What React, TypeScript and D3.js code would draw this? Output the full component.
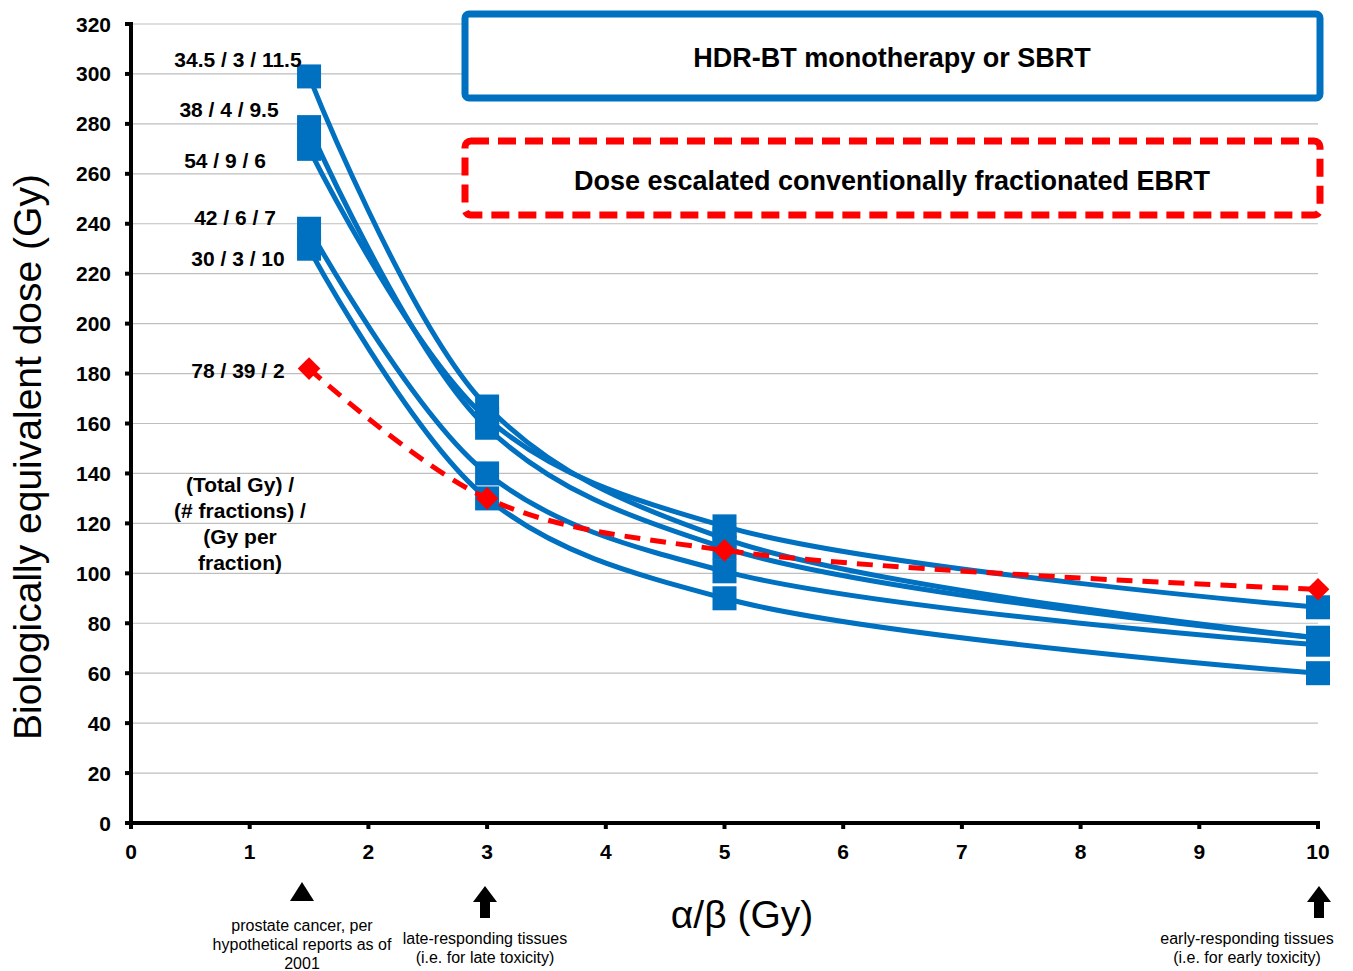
import React from "react";
import * as d3 from "d3";

const alphaBeta = [1.5, 3, 5, 10];
const hdrSeries = [
  { label: "34.5 / 3 / 11.5", values: [299, 166.8, 113.9, 74.2] },
  { label: "38 / 4 / 9.5", values: [278.7, 158.3, 110.2, 74.1] },
  { label: "54 / 9 / 6", values: [270, 162, 118.8, 86.4] },
  { label: "42 / 6 / 7", values: [238, 140, 100.8, 71.4] },
  { label: "30 / 3 / 10", values: [230, 130, 90, 60] },
];
const ebrtSeries = { label: "78 / 39 / 2", values: [182, 130, 109.2, 93.6] };
const xTicks = [0, 1, 2, 3, 4, 5, 6, 7, 8, 9, 10];
const yTicks = [0, 20, 40, 60, 80, 100, 120, 140, 160, 180, 200, 220, 240, 260, 280, 300, 320];

const W = 1353, H = 971;
const BLUE = "#0070C0";
const RED = "#FF0000";

export default function App() {
  const x = d3.scaleLinear().domain([0, 10]).range([131, 1318]);
  const y = d3.scaleLinear().domain([0, 320]).range([823, 24]);
  const line = d3
    .line<number>()
    .x((_, i) => x(alphaBeta[i]))
    .y((v) => y(v))
    .curve(d3.curveCatmullRom.alpha(0.5));
  const font = "Arial, 'Liberation Sans', sans-serif";
  const allLabels = [...hdrSeries.map((s) => s.label), ebrtSeries.label];
  const labelPos = [
    [238, 59], [229, 109], [225, 160], [235, 217], [238, 258], [238, 370],
  ];
  const arrowXs = [485, 1319];

  return (
    <svg width={W} height={H} style={{ position: "absolute", left: 0, top: 0, background: "#fff" }} fontFamily={font}>
      {/* gridlines */}
      {yTicks.slice(1).map((t) => (
        <line key={t} x1={x(0)} x2={x(10)} y1={y(t)} y2={y(t)} stroke="#BEBEBE" strokeWidth={1.2} />
      ))}
      {/* axes */}
      <line x1={x(0)} x2={x(0)} y1={y(320) - 2} y2={y(0) + 2} stroke="#000" strokeWidth={4} />
      <line x1={x(0) - 2} x2={x(10) + 2} y1={y(0)} y2={y(0)} stroke="#000" strokeWidth={4} />
      {yTicks.map((t) => (
        <g key={t}>
          <line x1={x(0) - 6} x2={x(0)} y1={y(t)} y2={y(t)} stroke="#000" strokeWidth={4} />
          <text x={111} y={y(t)} dy="0.36em" textAnchor="end" fontSize={21} fontWeight="bold">{t}</text>
        </g>
      ))}
      {xTicks.map((t) => (
        <g key={t}>
          <line x1={x(t)} x2={x(t)} y1={y(0)} y2={y(0) + 6} stroke="#000" strokeWidth={4} />
          <text x={x(t)} y={859} textAnchor="middle" fontSize={21} fontWeight="bold">{t}</text>
        </g>
      ))}
      {/* boxes */}
      <rect x={465} y={14} width={855} height={84} rx={4} fill="#fff" stroke={BLUE} strokeWidth={7} />
      <text x={892} y={57} dy="0.36em" textAnchor="middle" fontSize={27} fontWeight="bold">HDR-BT monotherapy or SBRT</text>
      <rect x={465} y={141} width={855} height={74} rx={6} fill="#fff" stroke={RED} strokeWidth={7} strokeDasharray="18 9" />
      <text x={892} y={180} dy="0.36em" textAnchor="middle" fontSize={27} fontWeight="bold">Dose escalated conventionally fractionated EBRT</text>
      {/* HDR lines */}
      {hdrSeries.map((s) => (
        <path key={s.label} d={line(s.values) || ""} fill="none" stroke={BLUE} strokeWidth={5} />
      ))}
      {hdrSeries.map((s) =>
        s.values.map((v, i) => (
          <rect key={s.label + i} x={x(alphaBeta[i]) - 12} y={y(v) - 12} width={24} height={24} fill={BLUE} />
        ))
      )}
      {/* EBRT line */}
      <path d={line(ebrtSeries.values) || ""} fill="none" stroke={RED} strokeWidth={5} strokeDasharray="16 10" />
      {ebrtSeries.values.map((v, i) => (
        <rect key={i} x={x(alphaBeta[i]) - 8} y={y(v) - 8} width={16} height={16} fill={RED}
          transform={`rotate(45 ${x(alphaBeta[i])} ${y(v)})`} />
      ))}
      {/* data labels */}
      {allLabels.map((l, i) => (
        <text key={l} x={labelPos[i][0]} y={labelPos[i][1]} dy="0.36em" textAnchor="middle" fontSize={21} fontWeight="bold">{l}</text>
      ))}
      <text textAnchor="middle" fontSize={21} fontWeight="bold">
        {["(Total Gy) /", "(# fractions) /", "(Gy per", "fraction)"].map((t, i) => (
          <tspan key={t} x={240} y={492 + i * 26}>{t}</tspan>
        ))}
      </text>
      {/* axis titles */}
      <text transform="translate(41,457) rotate(-90)" textAnchor="middle" fontSize={39}>Biologically equivalent dose (Gy)</text>
      <text x={742} y={928} textAnchor="middle" fontSize={39}>α/β (Gy)</text>
      {/* annotations */}
      <path d="M290,901 L314,901 L302,882 Z" fill="#000" />
      <text textAnchor="middle" fontSize={16}>
        <tspan x={302} y={931}>prostate cancer, per</tspan>
        <tspan x={302} y={950}>hypothetical reports as of</tspan>
        <tspan x={302} y={969}>2001</tspan>
      </text>
      {arrowXs.map((ax) => (
        <path key={ax} d={`M${ax},886 L${ax + 12},902 L${ax + 5},902 L${ax + 5},918 L${ax - 5},918 L${ax - 5},902 L${ax - 12},902 Z`} fill="#000" />
      ))}
      <text textAnchor="middle" fontSize={16}>
        <tspan x={485} y={944}>late-responding tissues</tspan>
        <tspan x={485} y={963}>(i.e. for late toxicity)</tspan>
      </text>
      <text textAnchor="middle" fontSize={16}>
        <tspan x={1247} y={944}>early-responding tissues</tspan>
        <tspan x={1247} y={963}>(i.e. for early toxicity)</tspan>
      </text>
    </svg>
  );
}
